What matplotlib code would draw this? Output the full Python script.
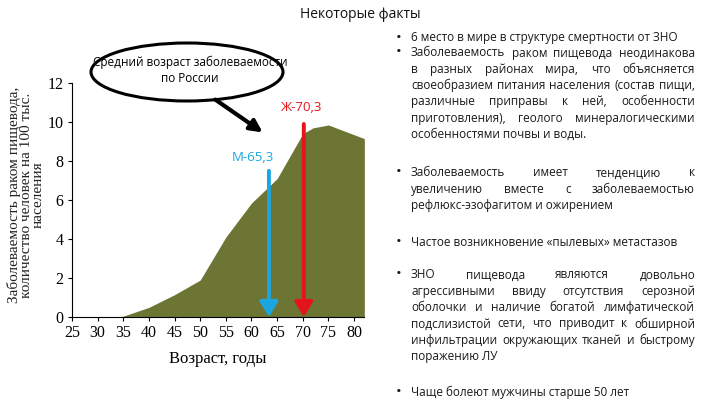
import matplotlib
matplotlib.use("Agg")
import matplotlib.pyplot as plt
from matplotlib.patches import Ellipse, FancyArrowPatch

# данные
ages = [25, 30, 33, 35, 40, 45, 50, 55, 60, 65, 70, 72, 75, 80, 82]
incidence = [0, 0, 0, 0.05, 0.5, 1.15, 1.9, 4.1, 5.85, 7.1, 9.4, 9.7, 9.85, 9.35, 9.15]
x_ticks = [25, 30, 35, 40, 45, 50, 55, 60, 65, 70, 75, 80]
y_ticks = [0, 2, 4, 6, 8, 10, 12]

male_label = "М-65,3"
female_label = "Ж-70,3"
male_arrow_x, male_arrow_top = 63.4, 7.5
female_arrow_x, female_arrow_top = 70.2, 9.9

bullets = [
    ["6 место в мире в структуре смертности от ЗНО"],
    ["Заболеваемость раком пищевода неодинакова",
     "в разных районах мира, что объясняется",
     "своеобразием питания населения (состав пищи,",
     "различные приправы к ней, особенности",
     "приготовления), геолого минералогическими",
     "особенностями почвы и воды."],
    ["Заболеваемость имеет тенденцию к",
     "увеличению вместе с заболеваемостью",
     "рефлюкс-эзофагитом и ожирением"],
    ["Частое возникновение «пылевых» метастазов"],
    ["ЗНО пищевода являются довольно",
     "агрессивными ввиду отсутствия серозной",
     "оболочки и наличие богатой лимфатической",
     "подслизистой сети, что приводит к обширной",
     "инфильтрации окружающих тканей и быстрому",
     "поражению ЛУ"],
    ["Чаще болеют мужчины старше 50 лет"],
]
bullet_top = [38, 53, 173, 242, 275, 392]   # px от верха

OLIVE = "#6c7534"
RED = "#e3151b"
BLUE = "#1ba6e2"
SANS = ["Open Sans", "DejaVu Sans"]
SERIF = ["Liberation Serif", "DejaVu Serif"]

W, H = 720, 405
fig = plt.figure(figsize=(7.2, 4.05), dpi=100)
fig.patch.set_facecolor("white")

fig.text(0.5, 1 - 15 / H, "Некоторые факты", ha="center", va="center",
         fontsize=10, family=SANS, color="#111111")

ax = fig.add_axes([0.1, 0.217, 0.406, 0.578])
ax.fill_between(ages, incidence, 0, color=OLIVE, lw=0)
ax.set_xlim(25, 82)
ax.set_ylim(0, 12)
ax.set_xticks(x_ticks)
ax.set_yticks(y_ticks)
for s in ["top", "right"]:
    ax.spines[s].set_visible(False)
ax.spines["left"].set_bounds(0, 12)
ax.tick_params(length=3, width=0.8, labelsize=11.5, pad=3)
for lab in ax.get_xticklabels() + ax.get_yticklabels():
    lab.set_family(SERIF)
ax.set_xlabel("Возраст, годы", family=SERIF, fontsize=12, labelpad=7)
fig.text(26 / W, 1 - 195 / H,
         "Заболеваемость раком пищевода,\nколичество человек на 100 тыс.\nнаселения",
         rotation=90, ha="center", va="center", fontsize=11, family=SERIF,
         linespacing=0.9, color="#222222")

# вертикальные стрелки
ax.annotate("", xy=(female_arrow_x, 0), xytext=(female_arrow_x, female_arrow_top),
            arrowprops=dict(arrowstyle="-|>,head_length=0.5,head_width=0.3", color=RED,
                            lw=2.8, mutation_scale=18, shrinkA=0, shrinkB=0),
            annotation_clip=False)
ax.annotate("", xy=(male_arrow_x, 0), xytext=(male_arrow_x, male_arrow_top),
            arrowprops=dict(arrowstyle="-|>,head_length=0.5,head_width=0.3", color=BLUE,
                            lw=2.8, mutation_scale=18, shrinkA=0, shrinkB=0),
            annotation_clip=False)
ax.text(69.5, 10.75, female_label, color=RED, ha="center", va="center",
        fontsize=9.5, family=SANS)
ax.text(60.3, 8.2, male_label, color=BLUE, ha="center", va="center",
        fontsize=9.5, family=SANS)

# выноска
fig.add_artist(Ellipse((187 / W, 1 - 72 / H), 192 / W, 58 / H,
                       transform=fig.transFigure, fill=False, ec="black", lw=2.2))
fig.text(190 / W, 1 - 70 / H, "Средний возраст заболеваемости\nпо России",
         ha="center", va="center", fontsize=8.5, family=SANS, linespacing=1.3)
fig.add_artist(FancyArrowPatch((213 / W, 1 - 98 / H), (265 / W, 1 - 134 / H),
                               transform=fig.transFigure, arrowstyle="-|>",
                               mutation_scale=18, lw=3, color="black"))

# текст справа, выровненный по ширине
renderer = fig.canvas.get_renderer()
x_left, x_right, x_bullet = 411, 695, 399
pitch = 16.3
tkw = dict(fontsize=8.5, family=SANS, color="#1a1a1a", va="center")


def put_line(line, y, justify):
    yf = 1 - y / H
    if not justify:
        fig.text(x_left / W, yf, line, ha="left", **tkw)
        return
    words = line.split()
    texts = [fig.text(0, yf, w, ha="left", **tkw) for w in words]
    widths = [t.get_window_extent(renderer).width for t in texts]
    gap = (x_right - x_left - sum(widths)) / max(len(words) - 1, 1)
    x = x_left
    for t, w in zip(texts, widths):
        t.set_x(x / W)
        x += w + gap


for para, top in zip(bullets, bullet_top):
    fig.text(x_bullet / W, 1 - top / H, "•", ha="center", va="center",
             fontsize=11, family=SANS, color="#1a1a1a")
    for i, line in enumerate(para):
        put_line(line, top + i * pitch, i < len(para) - 1)

fig.savefig("out.png", dpi=100)
